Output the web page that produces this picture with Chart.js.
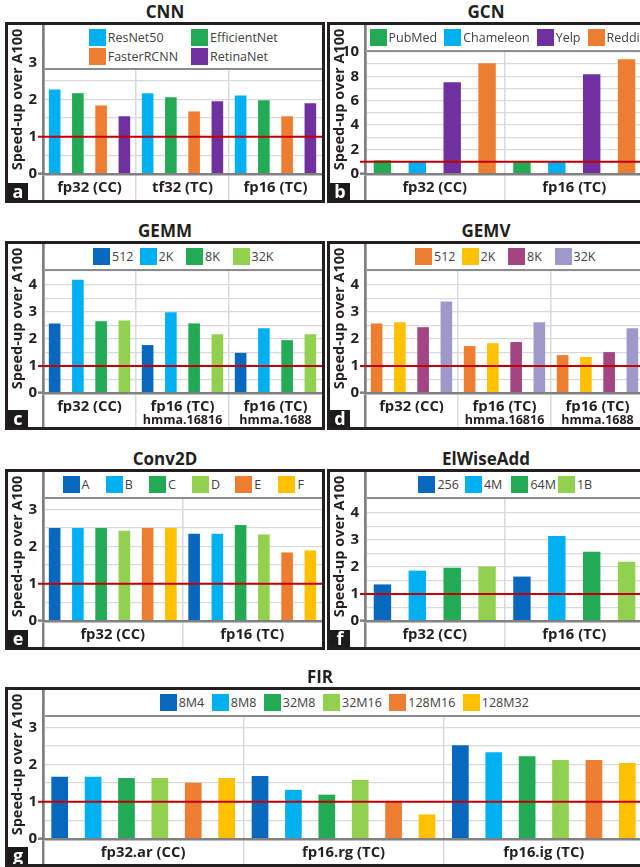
<!DOCTYPE html>
<html>
<head>
<meta charset="utf-8">
<script src="https://cdn.jsdelivr.net/npm/chart.js@4.4.0/dist/chart.umd.min.js"></script>
<style>
  body { margin: 0; background: #fff; font-family: "Open Sans", "Noto Sans", sans-serif; }
  #page { position: relative; width: 640px; height: 867px; overflow: hidden; }
  .title { position: absolute; width: 200px; height: 20px; line-height: 20px; text-align: center;
           font-weight: 700; font-size: 17px; color: #231f20; }
  .box { position: absolute; box-sizing: border-box; border: 3px solid #231f20; background: #fff; overflow: hidden; }
  .box canvas { position: absolute; left: 0; top: 0; }
  .legend { position: absolute; top: 0; right: 0; box-sizing: border-box; background: #fff;
            border-bottom: 2px solid #8c8c8c; display: flex; align-items: center; }
  .items { display: flex; align-items: center; }
  .grid2 { display: grid; grid-template-columns: auto auto; column-gap: 13px; row-gap: 2px; }
  .item { display: flex; align-items: center; font-size: 12.5px; color: #404040; white-space: nowrap; height: 17px; }
  .sw { width: 17px; height: 17px; margin-right: 2px; flex: none; }
  .badge { position: absolute; left: 0; bottom: 0; width: 20px; height: 17px; background: #1b1b1b; color: #fff;
           font-weight: 700; font-size: 18px; line-height: 16px; text-align: center; }
</style>
</head>
<body>
<div id="page"></div>
<script>
// ---- data ----
const BASELINE = 1;

const cnnGroups = ['fp32 (CC)', 'tf32 (TC)', 'fp16 (TC)'];
const cnnResNet50 = [2.27, 2.17, 2.11];
const cnnEfficientNet = [2.17, 2.06, 1.98];
const cnnFasterRCNN = [1.84, 1.68, 1.55];
const cnnRetinaNet = [1.55, 1.95, 1.90];
const cnnYTicks = [0, 1, 2, 3];

const gcnGroups = ['fp32 (CC)', 'fp16 (TC)'];
const gcnPubMed = [1.12, 1.05];
const gcnChameleon = [1.05, 1.05];
const gcnYelp = [7.52, 8.17];
const gcnReddit = [9.07, 9.40];
const gcnYTicks = [0, 2, 4, 6, 8, 10];

const gemmGroups = ['fp32 (CC)', 'fp16 (TC)', 'fp16 (TC)'];
const gemmSubLabels = ['', 'hmma.16816', 'hmma.1688'];
const gemm512 = [2.57, 1.77, 1.48];
const gemm2K = [4.18, 2.98, 2.39];
const gemm8K = [2.65, 2.57, 1.95];
const gemm32K = [2.68, 2.17, 2.17];
const gemmYTicks = [0, 1, 2, 3, 4];

const gemvGroups = ['fp32 (CC)', 'fp16 (TC)', 'fp16 (TC)'];
const gemvSubLabels = ['', 'hmma.16816', 'hmma.1688'];
const gemv512 = [2.57, 1.73, 1.40];
const gemv2K = [2.61, 1.84, 1.33];
const gemv8K = [2.43, 1.88, 1.51];
const gemv32K = [3.38, 2.61, 2.39];
const gemvYTicks = [0, 1, 2, 3, 4];

const convGroups = ['fp32 (CC)', 'fp16 (TC)'];
const convA = [2.50, 2.34];
const convB = [2.50, 2.34];
const convC = [2.50, 2.58];
const convD = [2.42, 2.32];
const convE = [2.50, 1.84];
const convF = [2.50, 1.89];
const convYTicks = [0, 1, 2, 3];

const ewaGroups = ['fp32 (CC)', 'fp16 (TC)'];
const ewa256 = [1.35, 1.64];
const ewa4M = [1.86, 3.14];
const ewa64M = [1.97, 2.56];
const ewa1B = [2.01, 2.19];
const ewaYTicks = [0, 1, 2, 3, 4];

const firGroups = ['fp32.ar (CC)', 'fp16.rg (TC)', 'fp16.ig (TC)'];
const fir8M4 = [1.67, 1.69, 2.52];
const fir8M8 = [1.67, 1.32, 2.33];
const fir32M8 = [1.64, 1.19, 2.22];
const fir32M16 = [1.64, 1.59, 2.12];
const fir128M16 = [1.51, 1.01, 2.12];
const fir128M32 = [1.64, 0.66, 2.04];
const firYTicks = [0, 1, 2, 3];

// ---- colours ----
const DKBLUE = '#0868be', LTBLUE = '#00b0f0', GREEN = '#22aa55', LTGREEN = '#92d050';
const ORANGE = '#ed7d31', GOLD = '#ffc000', PURPLE = '#7030a0', MAGENTA = '#a34580', LAVENDER = '#9f98ca';
const RED = '#c00000', AXIS = '#808080', GRID = '#d9d9d9', INK = '#231f20';

const FONT = '"Open Sans", "Noto Sans", sans-serif';
Chart.defaults.font.family = FONT;
Chart.defaults.color = INK;

const AXIS_W = 35;

// red reference line at speed-up = 1
const baselinePlugin = {
  id: 'baseline',
  afterDatasetsDraw(chart) {
    const { ctx, chartArea, scales } = chart;
    const y = scales.y.getPixelForValue(BASELINE);
    ctx.save();
    ctx.strokeStyle = RED;
    ctx.lineWidth = 2;
    ctx.beginPath();
    ctx.moveTo(chartArea.left - 5, y);
    ctx.lineTo(chartArea.right, y);
    ctx.stroke();
    ctx.restore();
  }
};

function sepColor(ctx) {
  if (ctx.index === 0) return AXIS;
  if (ctx.index === undefined) return 'transparent';
  return GRID;
}

function makePanel(cfg) {
  const page = document.getElementById('page');
  const [bx, by, bw, bh] = cfg.box;

  const title = document.createElement('div');
  title.className = 'title';
  title.textContent = cfg.title;
  title.style.left = (cfg.titleX - 100) + 'px';
  title.style.top = (by - 20) + 'px';
  page.appendChild(title);

  const box = document.createElement('div');
  box.className = 'box';
  Object.assign(box.style, { left: bx + 'px', top: by + 'px', width: bw + 'px', height: bh + 'px' });
  page.appendChild(box);

  const canvas = document.createElement('canvas');
  canvas.width = bw - 6;
  canvas.height = bh - 6;
  box.appendChild(canvas);

  const scales = {
    x: {
      offset: true,
      afterFit: s => { s.height = cfg.labelH; s.paddingLeft = 0; s.paddingRight = 0; },
      ticks: { autoSkip: false, maxRotation: 0, color: INK, padding: 5 - cfg.labelH,
               font: { size: 14.8, weight: 'bold' } },
      grid: { offset: true, color: sepColor, lineWidth: c => c.index === 0 ? 2.5 : 1.5, tickLength: cfg.labelH },
      border: { color: AXIS, width: 2.5, z: 1 }
    },
    y: {
      min: 0,
      max: cfg.yMax,
      afterFit: s => { s.width = AXIS_W; s.paddingTop = 0; s.paddingBottom = 0; },
      ticks: { stepSize: cfg.yStep, autoSkip: false, color: INK, padding: 1,
               font: { size: 15, weight: 'bold' },
               callback: v => cfg.yTicks.includes(v) ? String(v) : '' },
      grid: {
        color: c => (c.tick && c.tick.value === 0) ? 'transparent' : GRID,
        lineWidth: 1.3,
        tickLength: 5,
        tickWidth: 2.5,
        tickColor: c => (c.tick && c.tick.value === 0) ? AXIS : 'transparent'
      },
      border: { color: AXIS, width: 2.5 },
      title: { display: true, text: 'Speed-up over A100', color: INK,
               font: { size: 14.5, weight: 'bold' }, padding: { top: 1, bottom: 0 } }
    }
  };

  if (cfg.subLabels) {
    scales.xSub = {
      type: 'category',
      axis: 'x',
      position: 'bottom',
      weight: 1,
      labels: cfg.subLabels,
      offset: true,
      afterFit: s => { s.height = cfg.subH; s.paddingLeft = 0; s.paddingRight = 0; },
      ticks: { autoSkip: false, maxRotation: 0, color: INK, padding: 0 - cfg.subH,
               font: { size: 12.5, weight: 'bold' } },
      grid: { offset: true, drawOnChartArea: false, color: sepColor,
              lineWidth: c => c.index === 0 ? 2.5 : 1.5, tickLength: cfg.subH },
      border: { display: false }
    };
  }

  new Chart(canvas, {
    type: 'bar',
    data: {
      labels: cfg.groups,
      datasets: cfg.series.map(s => ({
        label: s.label,
        data: s.data,
        backgroundColor: s.color,
        borderWidth: 0,
        barPercentage: 0.5,
        categoryPercentage: 1.0
      }))
    },
    options: {
      responsive: false,
      animation: false,
      devicePixelRatio: 1,
      layout: { padding: 0 },
      plugins: { legend: { display: false }, tooltip: { enabled: false } },
      scales: scales
    },
    plugins: [baselinePlugin]
  });

  // legend box over the top of the plot
  const legend = document.createElement('div');
  legend.className = 'legend';
  legend.style.left = (AXIS_W + 1.5) + 'px';
  legend.style.height = cfg.legendH + 'px';
  legend.style.justifyContent = cfg.legendAlign === 'start' ? 'flex-start' : 'center';
  if (cfg.legendPad) legend.style.paddingLeft = cfg.legendPad + 'px';
  const items = document.createElement('div');
  items.className = cfg.legendGrid ? 'grid2' : 'items';
  if (cfg.legendGap) items.style.columnGap = cfg.legendGap + 'px';
  cfg.series.forEach((s, i) => {
    const it = document.createElement('div');
    it.className = 'item';
    if (cfg.itemW && i < cfg.series.length - 1) it.style.width = cfg.itemW + 'px';
    const sw = document.createElement('span');
    sw.className = 'sw';
    sw.style.background = s.color;
    it.appendChild(sw);
    it.appendChild(document.createTextNode(s.label));
    items.appendChild(it);
  });
  legend.appendChild(items);
  box.appendChild(legend);

  const badge = document.createElement('div');
  badge.className = 'badge';
  badge.textContent = cfg.letter;
  box.appendChild(badge);
}

makePanel({
  letter: 'a', title: 'CNN', titleX: 165, box: [5, 22, 320, 181],
  legendH: 45, legendGrid: true, labelH: 26, yMax: 4, yStep: 0.5, yTicks: cnnYTicks,
  groups: cnnGroups,
  series: [
    { label: 'ResNet50', data: cnnResNet50, color: LTBLUE },
    { label: 'EfficientNet', data: cnnEfficientNet, color: GREEN },
    { label: 'FasterRCNN', data: cnnFasterRCNN, color: ORANGE },
    { label: 'RetinaNet', data: cnnRetinaNet, color: PURPLE }
  ]
});

makePanel({
  letter: 'b', title: 'GCN', titleX: 486, box: [327, 22, 320, 181],
  legendH: 27, legendAlign: 'start', legendPad: 3, legendGap: 7, labelH: 26, yMax: 12.2, yStep: 1, yTicks: gcnYTicks,
  groups: gcnGroups,
  series: [
    { label: 'PubMed', data: gcnPubMed, color: GREEN },
    { label: 'Chameleon', data: gcnChameleon, color: LTBLUE },
    { label: 'Yelp', data: gcnYelp, color: PURPLE },
    { label: 'Reddit', data: gcnReddit, color: ORANGE }
  ]
});

makePanel({
  letter: 'c', title: 'GEMM', titleX: 165, box: [5, 241, 320, 189],
  legendH: 27, itemW: 46.5, labelH: 20, subH: 14, subLabels: gemmSubLabels,
  yMax: 5.5, yStep: 0.5, yTicks: gemmYTicks,
  groups: gemmGroups,
  series: [
    { label: '512', data: gemm512, color: DKBLUE },
    { label: '2K', data: gemm2K, color: LTBLUE },
    { label: '8K', data: gemm8K, color: GREEN },
    { label: '32K', data: gemm32K, color: LTGREEN }
  ]
});

makePanel({
  letter: 'd', title: 'GEMV', titleX: 486, box: [327, 241, 320, 189],
  legendH: 27, itemW: 46.5, labelH: 20, subH: 14, subLabels: gemvSubLabels,
  yMax: 5.5, yStep: 0.5, yTicks: gemvYTicks,
  groups: gemvGroups,
  series: [
    { label: '512', data: gemv512, color: ORANGE },
    { label: '2K', data: gemv2K, color: GOLD },
    { label: '8K', data: gemv8K, color: MAGENTA },
    { label: '32K', data: gemv32K, color: LAVENDER }
  ]
});

makePanel({
  letter: 'e', title: 'Conv2D', titleX: 165, box: [5, 469, 320, 181],
  legendH: 27, itemW: 43.2, labelH: 26, yMax: 4, yStep: 0.5, yTicks: convYTicks,
  groups: convGroups,
  series: [
    { label: 'A', data: convA, color: DKBLUE },
    { label: 'B', data: convB, color: LTBLUE },
    { label: 'C', data: convC, color: GREEN },
    { label: 'D', data: convD, color: LTGREEN },
    { label: 'E', data: convE, color: ORANGE },
    { label: 'F', data: convF, color: GOLD }
  ]
});

makePanel({
  letter: 'f', title: 'ElWiseAdd', titleX: 486, box: [327, 469, 320, 181],
  legendH: 27, itemW: 46.5, labelH: 26, yMax: 5.5, yStep: 0.5, yTicks: ewaYTicks,
  groups: ewaGroups,
  series: [
    { label: '256', data: ewa256, color: DKBLUE },
    { label: '4M', data: ewa4M, color: LTBLUE },
    { label: '64M', data: ewa64M, color: GREEN },
    { label: '1B', data: ewa1B, color: LTGREEN }
  ]
});

makePanel({
  letter: 'g', title: 'FIR', titleX: 320, box: [5, 687, 642, 180],
  legendH: 27, legendGap: 7.5, labelH: 25, yMax: 4, yStep: 0.5, yTicks: firYTicks,
  groups: firGroups,
  series: [
    { label: '8M4', data: fir8M4, color: DKBLUE },
    { label: '8M8', data: fir8M8, color: LTBLUE },
    { label: '32M8', data: fir32M8, color: GREEN },
    { label: '32M16', data: fir32M16, color: LTGREEN },
    { label: '128M16', data: fir128M16, color: ORANGE },
    { label: '128M32', data: fir128M32, color: GOLD }
  ]
});
</script>
</body>
</html>
